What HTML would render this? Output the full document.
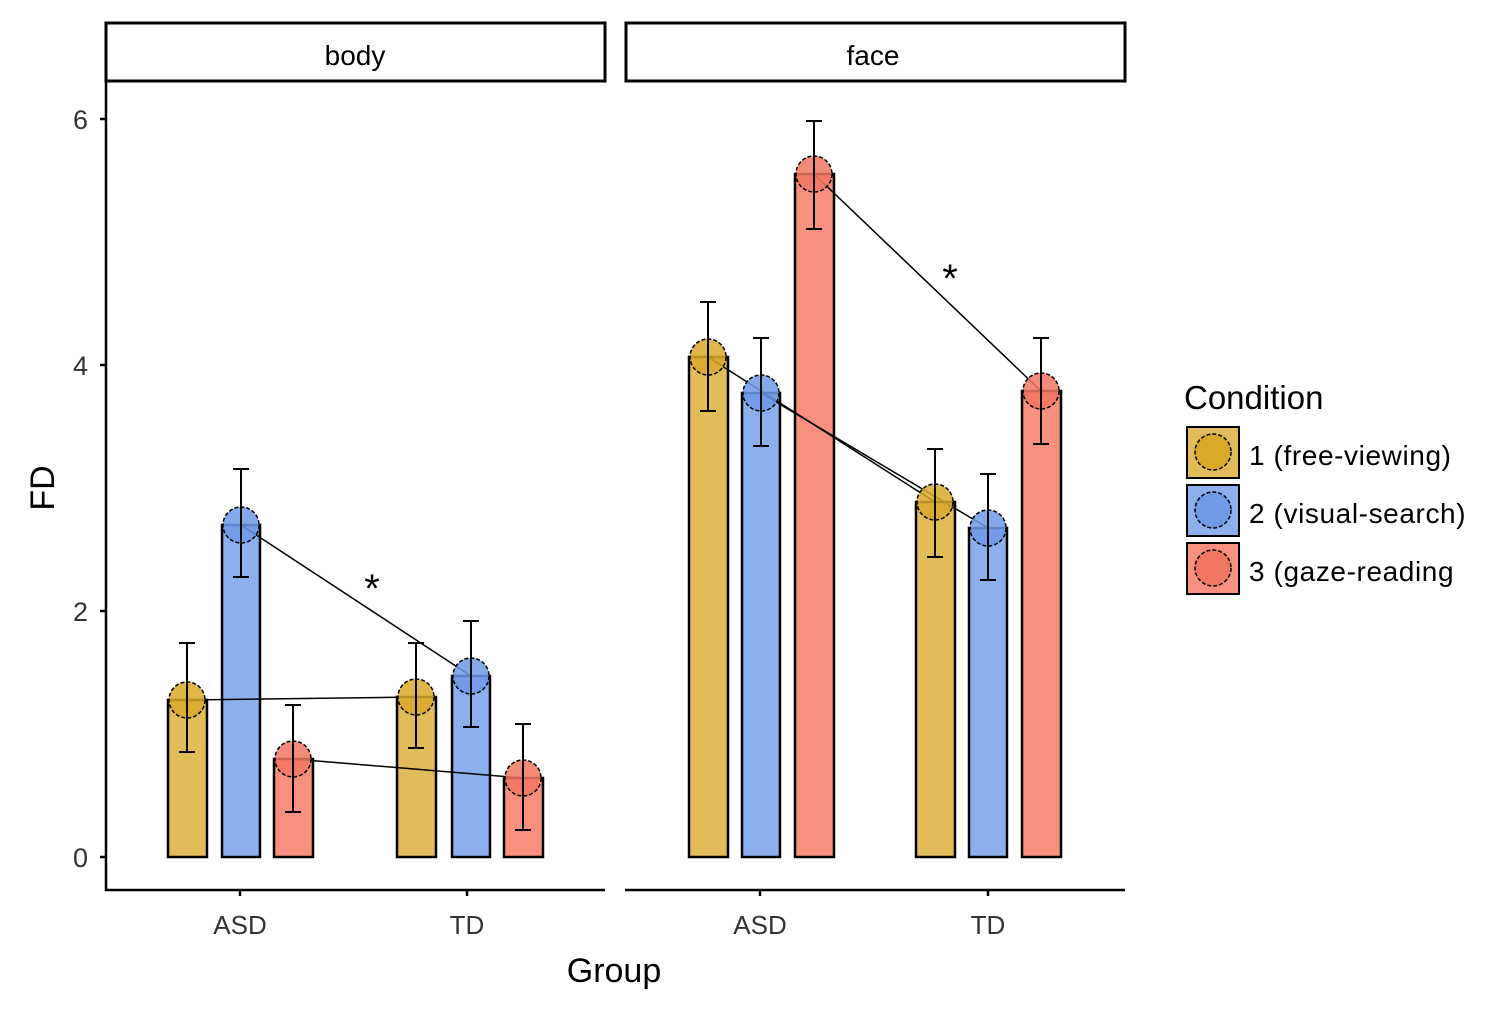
<!DOCTYPE html>
<html><head><meta charset="utf-8"><style>body{margin:0;background:#fff}svg{display:block}text{font-family:"Liberation Sans",sans-serif}</style></head><body>
<svg width="1503" height="1013" viewBox="0 0 1503 1013" xmlns="http://www.w3.org/2000/svg">
<rect width="1503" height="1013" fill="#fff"/>
<rect x="106" y="23" width="499" height="58" fill="#fff" stroke="#000" stroke-width="3"/>
<rect x="626" y="23" width="499" height="58" fill="#fff" stroke="#000" stroke-width="3"/>
<text x="355" y="65" font-size="28" text-anchor="middle">body</text>
<text x="873" y="65" font-size="28" text-anchor="middle">face</text>
<g stroke="#000" stroke-width="2.5" fill="none">
<line x1="106" y1="82" x2="106" y2="891"/>
<line x1="105" y1="890" x2="605" y2="890"/>
<line x1="625" y1="890" x2="1125" y2="890"/>
<line x1="100" y1="119" x2="106" y2="119"/><line x1="100" y1="365" x2="106" y2="365"/>
<line x1="100" y1="611" x2="106" y2="611"/><line x1="100" y1="857" x2="106" y2="857"/>
<line x1="240" y1="890" x2="240" y2="896"/><line x1="467" y1="890" x2="467" y2="896"/>
<line x1="760" y1="890" x2="760" y2="896"/><line x1="988" y1="890" x2="988" y2="896"/>
</g>
<g font-size="27" fill="#333" text-anchor="end">
<text x="88" y="129">6</text><text x="88" y="375">4</text><text x="88" y="621">2</text><text x="88" y="867">0</text>
</g>
<g font-size="26" fill="#333" text-anchor="middle">
<text x="240" y="934">ASD</text><text x="467" y="934">TD</text>
<text x="760" y="934">ASD</text><text x="988" y="934">TD</text>
</g>
<text x="614" y="982" font-size="34" text-anchor="middle">Group</text>
<text transform="translate(54,488) rotate(-90)" font-size="34" text-anchor="middle">FD</text>
<g stroke="#000" stroke-width="2.5">
<rect x="168" y="700" width="39" height="157" fill="#e3bc5a"/>
<rect x="222" y="525" width="38" height="332" fill="#8cb0ee"/>
<rect x="274" y="759" width="39" height="98" fill="#f89080"/>
<rect x="397" y="697" width="39" height="160" fill="#e3bc5a"/>
<rect x="452" y="676" width="38" height="181" fill="#8cb0ee"/>
<rect x="504" y="778" width="39" height="79" fill="#f89080"/>
<rect x="689" y="357" width="39" height="500" fill="#e3bc5a"/>
<rect x="742" y="393" width="38" height="464" fill="#8cb0ee"/>
<rect x="795" y="174" width="39" height="683" fill="#f89080"/>
<rect x="916" y="502" width="39" height="355" fill="#e3bc5a"/>
<rect x="969" y="528" width="38" height="329" fill="#8cb0ee"/>
<rect x="1022" y="391" width="39" height="466" fill="#f89080"/>
</g>
<g stroke="#000" stroke-width="1.5">
<line x1="187" y1="700" x2="416" y2="697"/>
<line x1="293" y1="759" x2="523" y2="778"/>
<line x1="241" y1="525" x2="471" y2="676"/>
<line x1="708" y1="357" x2="935" y2="502"/>
<line x1="761" y1="393" x2="988" y2="528"/>
<line x1="814" y1="174" x2="1041" y2="391"/>
</g>
<text x="372" y="602" font-size="40" text-anchor="middle">*</text>
<text x="950" y="292" font-size="40" text-anchor="middle">*</text>
<g stroke="#000" stroke-width="1.5" stroke-dasharray="4 2">
<circle cx="187" cy="700" r="18" fill="#d9a92a" fill-opacity="0.85"/>
<circle cx="241" cy="525" r="18" fill="#6f9ae6" fill-opacity="0.85"/>
<circle cx="293" cy="759" r="18" fill="#f27763" fill-opacity="0.85"/>
<circle cx="416" cy="697" r="18" fill="#d9a92a" fill-opacity="0.85"/>
<circle cx="471" cy="676" r="18" fill="#6f9ae6" fill-opacity="0.85"/>
<circle cx="523" cy="778" r="18" fill="#f27763" fill-opacity="0.85"/>
<circle cx="708" cy="357" r="18" fill="#d9a92a" fill-opacity="0.85"/>
<circle cx="761" cy="393" r="18" fill="#6f9ae6" fill-opacity="0.85"/>
<circle cx="814" cy="174" r="18" fill="#f27763" fill-opacity="0.85"/>
<circle cx="935" cy="502" r="18" fill="#d9a92a" fill-opacity="0.85"/>
<circle cx="988" cy="528" r="18" fill="#6f9ae6" fill-opacity="0.85"/>
<circle cx="1041" cy="391" r="18" fill="#f27763" fill-opacity="0.85"/>
</g>
<g stroke="#000" stroke-width="2" fill="none">
<path d="M179 643H195M187 643V752M179 752H195"/>
<path d="M233 469H249M241 469V577M233 577H249"/>
<path d="M285 705H301M293 705V812M285 812H301"/>
<path d="M408 643H424M416 643V748M408 748H424"/>
<path d="M463 621H479M471 621V727M463 727H479"/>
<path d="M515 724H531M523 724V830M515 830H531"/>
<path d="M700 302H716M708 302V411M700 411H716"/>
<path d="M753 338H769M761 338V446M753 446H769"/>
<path d="M806 121H822M814 121V229M806 229H822"/>
<path d="M927 449H943M935 449V557M927 557H943"/>
<path d="M980 474H996M988 474V580M980 580H996"/>
<path d="M1033 338H1049M1041 338V444M1033 444H1049"/>
</g>
<text x="1184" y="409" font-size="33">Condition</text>
<g stroke="#000" stroke-width="2">
<rect x="1187" y="427" width="52" height="51" fill="#e3bc5a"/>
<rect x="1187" y="485" width="52" height="51" fill="#8cb0ee"/>
<rect x="1187" y="543" width="52" height="51" fill="#f89080"/>
</g>
<g stroke="#000" stroke-width="1.5" stroke-dasharray="4 2">
<circle cx="1213" cy="452" r="18" fill="#d9a92a"/>
<circle cx="1213" cy="510" r="18" fill="#6f9ae6"/>
<circle cx="1213" cy="568" r="18" fill="#f27763"/>
</g>
<g font-size="28" letter-spacing="0.6">
<text x="1249" y="465">1 (free-viewing)</text>
<text x="1249" y="523">2 (visual-search)</text>
<text x="1249" y="581">3 (gaze-reading</text>
</g>
</svg>
</body></html>
